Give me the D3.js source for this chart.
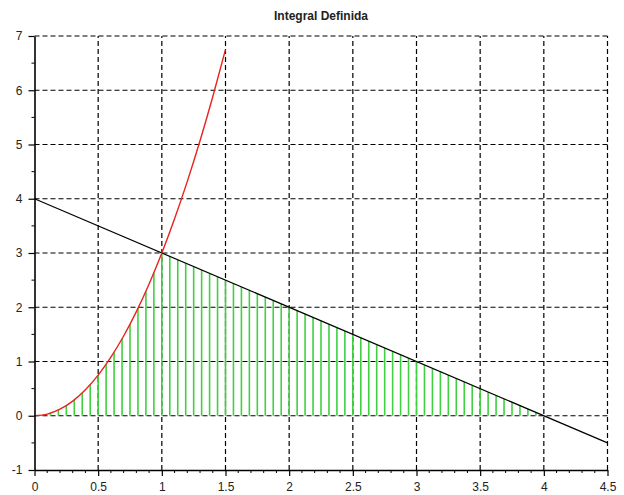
<!DOCTYPE html>
<html>
<head>
<meta charset="utf-8">
<script src="https://cdn.jsdelivr.net/npm/d3@7"></script>
<style>
  html, body { margin: 0; padding: 0; background: #fff; }
  svg { display: block; font-family: "Liberation Sans", Arial, sans-serif; }
</style>
</head>
<body>
<svg id="chart" width="624" height="495"></svg>
<script>
// Axis ticks
const xTicks = [0, 0.5, 1, 1.5, 2, 2.5, 3, 3.5, 4, 4.5];
const yTicks = [-1, 0, 1, 2, 3, 4, 5, 6, 7];

// Curve y = 3x^2 sampled on [0, 1.5]
const curveX = [0, 0.1, 0.2, 0.3, 0.4, 0.5, 0.6, 0.7, 0.8, 0.9, 1.0, 1.1, 1.2, 1.3, 1.4, 1.5];
const curveY = [0, 0.03, 0.12, 0.27, 0.48, 0.75, 1.08, 1.47, 1.92, 2.43, 3.0, 3.63, 4.32, 5.07, 5.88, 6.75];

// Straight line y = 4 - x
const lineX = [0, 4.5];
const lineY = [4, -0.5];

// Vertical strips of the shaded region (step 1/16)
const stripX = [
  0, 0.0625, 0.125, 0.1875, 0.25, 0.3125, 0.375, 0.4375, 0.5, 0.5625, 0.625, 0.6875, 0.75, 0.8125, 0.875, 0.9375,
  1, 1.0625, 1.125, 1.1875, 1.25, 1.3125, 1.375, 1.4375, 1.5, 1.5625, 1.625, 1.6875, 1.75, 1.8125, 1.875, 1.9375,
  2, 2.0625, 2.125, 2.1875, 2.25, 2.3125, 2.375, 2.4375, 2.5, 2.5625, 2.625, 2.6875, 2.75, 2.8125, 2.875, 2.9375,
  3, 3.0625, 3.125, 3.1875, 3.25, 3.3125, 3.375, 3.4375, 3.5, 3.5625, 3.625, 3.6875, 3.75, 3.8125, 3.875, 3.9375, 4
];
const stripH = [
  0, 0.0117, 0.0469, 0.1055, 0.1875, 0.293, 0.4219, 0.5742, 0.75, 0.9492, 1.1719, 1.418, 1.6875, 1.9805, 2.2969, 2.6367,
  3.0, 2.9375, 2.875, 2.8125, 2.75, 2.6875, 2.625, 2.5625, 2.5, 2.4375, 2.375, 2.3125, 2.25, 2.1875, 2.125, 2.0625,
  2.0, 1.9375, 1.875, 1.8125, 1.75, 1.6875, 1.625, 1.5625, 1.5, 1.4375, 1.375, 1.3125, 1.25, 1.1875, 1.125, 1.0625,
  1.0, 0.9375, 0.875, 0.8125, 0.75, 0.6875, 0.625, 0.5625, 0.5, 0.4375, 0.375, 0.3125, 0.25, 0.1875, 0.125, 0.0625, 0
];

const svg = d3.select("#chart");
const mLeft = 34.5, mRight = 607.5, mTop = 36, mBottom = 470;

const x = d3.scaleLinear().domain([0, 4.5]).range([mLeft, mRight]);
const y = d3.scaleLinear().domain([-1, 7]).range([mBottom, mTop]);

// Title
svg.append("text")
  .attr("x", (mLeft + mRight) / 2).attr("y", 20)
  .attr("text-anchor", "middle")
  .attr("font-size", 12).attr("font-weight", "bold").attr("fill", "#222")
  .text("Integral Definida");

// Dashed grid
const grid = svg.append("g").attr("stroke", "#000").attr("stroke-width", 1.2)
  .attr("stroke-dasharray", "5,3");
grid.selectAll(".gx").data(xTicks.filter(d => d > 0)).join("line")
  .attr("x1", d => x(d)).attr("x2", d => x(d))
  .attr("y1", mBottom).attr("y2", mTop);
grid.selectAll(".gy").data(yTicks.filter(d => d > -1)).join("line")
  .attr("x1", mLeft).attr("x2", mRight)
  .attr("y1", d => y(d)).attr("y2", d => y(d));

// Green strips
svg.append("g").attr("stroke", "#40d040").attr("stroke-width", 1.6)
  .selectAll("line").data(stripX.map((d, i) => [d, stripH[i]])).join("line")
  .attr("x1", d => x(d[0])).attr("x2", d => x(d[0]))
  .attr("y1", y(0)).attr("y2", d => y(d[1]));

// Straight line
svg.append("path")
  .datum(lineX.map((d, i) => [d, lineY[i]]))
  .attr("fill", "none").attr("stroke", "#000").attr("stroke-width", 1.2)
  .attr("d", d3.line().x(d => x(d[0])).y(d => y(d[1])));

// Parabola
svg.append("path")
  .datum(curveX.map((d, i) => [d, curveY[i]]))
  .attr("fill", "none").attr("stroke", "#e8231e").attr("stroke-width", 1.4)
  .attr("d", d3.line().curve(d3.curveMonotoneX).x(d => x(d[0])).y(d => y(d[1])));

// Axes (plain hyphen for negative labels)
const fmt = d => String(d);
const xAxis = d3.axisBottom(x).tickValues(xTicks).tickSize(6).tickSizeOuter(0)
  .tickFormat(fmt).tickPadding(6);
const gx = svg.append("g").attr("transform", `translate(0,${mBottom})`).call(xAxis);
const xMinor = d3.range(0, 46).map(i => i / 10).filter(v => Math.round(v * 10) % 5 !== 0);
gx.selectAll(".minor").data(xMinor).join("line").attr("class", "minor")
  .attr("x1", d => x(d)).attr("x2", d => x(d)).attr("y1", 0).attr("y2", 3)
  .attr("stroke", "#000");

const yAxis = d3.axisLeft(y).tickValues(yTicks).tickSize(6).tickSizeOuter(0)
  .tickFormat(fmt).tickPadding(6);
const gy = svg.append("g").attr("transform", `translate(${mLeft},0)`).call(yAxis);
const yMinor = yTicks.slice(0, -1).map(v => v + 0.5);
gy.selectAll(".minor").data(yMinor).join("line").attr("class", "minor")
  .attr("x1", 0).attr("x2", -3).attr("y1", d => y(d)).attr("y2", d => y(d))
  .attr("stroke", "#000");

[gx, gy].forEach(g => {
  g.select(".domain").attr("stroke", "#000").attr("stroke-width", 1.6);
  g.selectAll(".tick line").attr("stroke", "#000").attr("stroke-width", 1.2);
  g.selectAll(".tick text").attr("font-size", 12).attr("fill", "#222")
    .attr("font-family", "Liberation Sans, Arial, sans-serif");
});
</script>
</body>
</html>
